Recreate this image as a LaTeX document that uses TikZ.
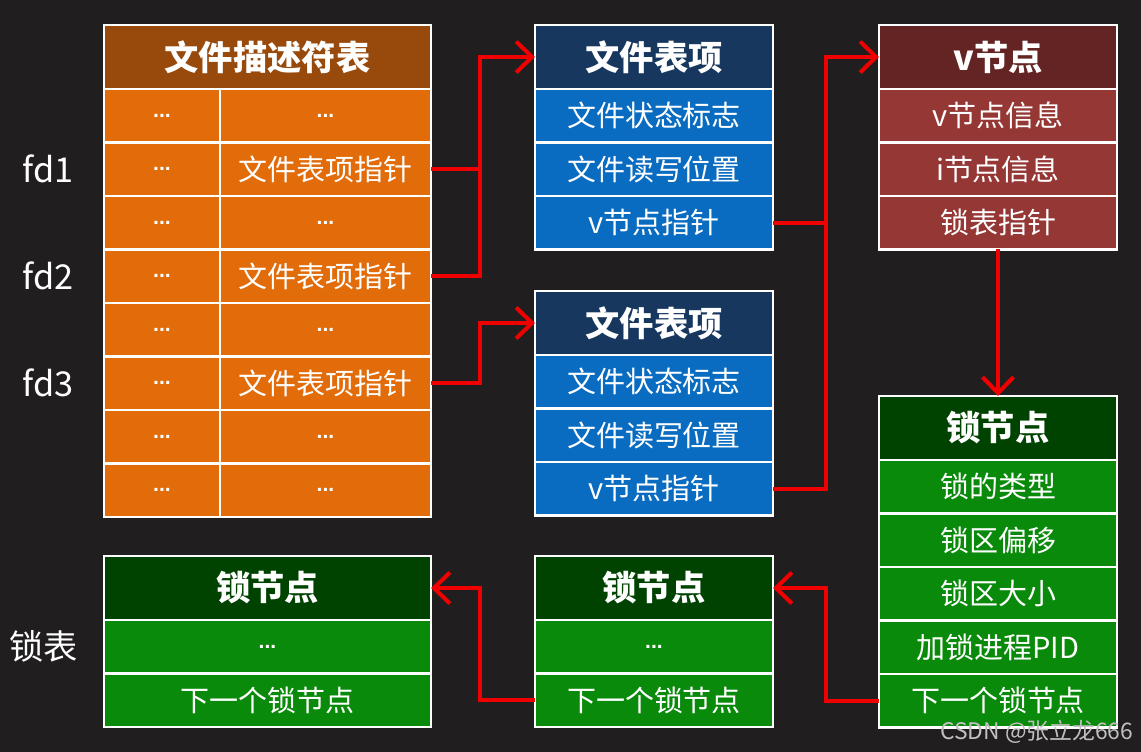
\documentclass[tikz,border=0pt]{standalone}
\usepackage{fontspec}
\setmainfont{Noto Sans CJK SC}
\newfontfamily\latinfont{Liberation Sans}
\usetikzlibrary{arrows.meta,positioning}

\definecolor{bgdark}{HTML}{201E1F}
\definecolor{fdbrown}{HTML}{984A0C}
\definecolor{fdorange}{HTML}{E26C0A}
\definecolor{ftnavy}{HTML}{17375E}
\definecolor{ftblue}{HTML}{0A6CC0}
\definecolor{vnmaroon}{HTML}{632423}
\definecolor{vnred}{HTML}{953735}
\definecolor{lkdark}{HTML}{004300}
\definecolor{lkgreen}{HTML}{0A8A0A}
\definecolor{linkred}{HTML}{F00000}

\newcommand{\etc}{{\latinfont\bfseries\fontsize{12}{14}\selectfont ...}}

\begin{document}
\begin{tikzpicture}[
  cell/.style={draw=white, line width=1.3pt, inner sep=0pt, outer sep=0pt,
    text=white, minimum height=10.7mm, font=\fontsize{16.5}{19}\selectfont},
  head/.style={cell, minimum height=12.8mm, font=\fontsize{19.5}{22}\selectfont\bfseries},
  narrow/.style={minimum width=47.6mm},
  wide/.style={minimum width=65.4mm},
  fdhead/.style={head, wide, fill=fdbrown},
  fdkey/.style={cell, fill=fdorange, minimum width=23.2mm},
  fdval/.style={cell, fill=fdorange, minimum width=42.2mm},
  fthead/.style={head, narrow, fill=ftnavy},
  ftrow/.style={cell, narrow, fill=ftblue},
  vnhead/.style={head, narrow, fill=vnmaroon},
  vnrow/.style={cell, narrow, fill=vnred},
  lkhead/.style={head, fill=lkdark},
  lkrow/.style={cell, fill=lkgreen},
  side/.style={text=white, font=\fontsize{19.5}{22}\selectfont},
  wire/.style={draw=linkred, line width=2.3pt},
  link/.style={wire, -{Straight Barb[length=3.2mm, width=6.2mm]}}
]
\fill[bgdark] (0,0) rectangle (228.2mm,-150.4mm);
\useasboundingbox (0,0) rectangle (228.2mm,-150.4mm);

% file descriptor table
\node[fdhead, anchor=north west] (fdh) at (20.8mm,-5mm) {文件描述符表};
\node[fdkey, anchor=north west] (fdk1) at (fdh.south west) {\etc};
\node[fdval, anchor=north east] (fdv1) at (fdh.south east) {\etc};
\foreach \i/\txt [remember=\i as \p (initially 1)] in
  {2/文件表项指针, 3/\etc, 4/文件表项指针, 5/\etc, 6/文件表项指针, 7/\etc, 8/\etc} {
  \node[fdkey, below=0pt of fdk\p] (fdk\i) {\etc};
  \node[fdval, below=0pt of fdv\p] (fdv\i) {\txt};
}
\node[side, left=4.8mm of fdk2] (fd1) {fd1};
\node[side, left=4.8mm of fdk4] (fd2) {fd2};
\node[side, left=4.8mm of fdk6] (fd3) {fd3};

% file table entries
\node[fthead, anchor=north west] (ft1h) at (107mm,-5mm) {文件表项};
\node[ftrow, below=0pt of ft1h] (ft1a) {文件状态标志};
\node[ftrow, below=0pt of ft1a] (ft1b) {文件读写位置};
\node[ftrow, below=0pt of ft1b] (ft1c) {v节点指针};

\node[fthead, anchor=north west] (ft2h) at (107mm,-58.2mm) {文件表项};
\node[ftrow, below=0pt of ft2h] (ft2a) {文件状态标志};
\node[ftrow, below=0pt of ft2a] (ft2b) {文件读写位置};
\node[ftrow, below=0pt of ft2b] (ft2c) {v节点指针};

% v-node
\node[vnhead, anchor=north west] (vnh) at (175.8mm,-5mm) {v节点};
\node[vnrow, below=0pt of vnh] (vna) {v节点信息};
\node[vnrow, below=0pt of vna] (vnb) {i节点信息};
\node[vnrow, below=0pt of vnb] (vnc) {锁表指针};

% lock nodes
\node[lkhead, narrow, anchor=north west] (lkh) at (175.8mm,-79.2mm) {锁节点};
\node[lkrow, narrow, below=0pt of lkh] (lk1) {锁的类型};
\node[lkrow, narrow, below=0pt of lk1] (lk2) {锁区偏移};
\node[lkrow, narrow, below=0pt of lk2] (lk3) {锁区大小};
\node[lkrow, narrow, below=0pt of lk3] (lk4) {加锁进程PID};
\node[lkrow, narrow, below=0pt of lk4] (lk5) {下一个锁节点};

\node[lkhead, narrow, anchor=north west] (mlh) at (107mm,-111.2mm) {锁节点};
\node[lkrow, narrow, below=0pt of mlh] (ml1) {\etc};
\node[lkrow, narrow, below=0pt of ml1] (ml2) {下一个锁节点};

\node[lkhead, wide, anchor=north west] (blh) at (20.8mm,-111.2mm) {锁节点};
\node[lkrow, wide, below=0pt of blh] (bl1) {\etc};
\node[lkrow, wide, below=0pt of bl1] (bl2) {下一个锁节点};
\node[side, left=4mm of bl1] (locklist) {锁表};

\coordinate (busA) at (96mm,0);
\coordinate (busB) at (165.2mm,0);

\draw[wire] (fdv2.east) -- (fdv2.east -| busA);
\draw[link] (fdv4.east) -- (fdv4.east -| busA) |- (ft1h.west);
\draw[link] (fdv6.east) -- (fdv6.east -| busA) |- (ft2h.west);
\draw[wire] (ft1c.east) -- (ft1c.east -| busB);
\draw[link] (ft2c.east) -- (ft2c.east -| busB) |- (vnh.west);
\draw[link] (vnc.south) -- (lkh.north);
\draw[link] (lk5.west) -- (lk5.west -| busB) |- (mlh.east);
\draw[link] (ml2.west) -- (ml2.west -| busA) |- (blh.east);

\node[text=white!72!bgdark, anchor=east, font=\fontsize{13}{15}\selectfont] (credit)
  at (227.9mm,-146.4mm) {CSDN @张立龙666};

\end{tikzpicture}
\end{document}
